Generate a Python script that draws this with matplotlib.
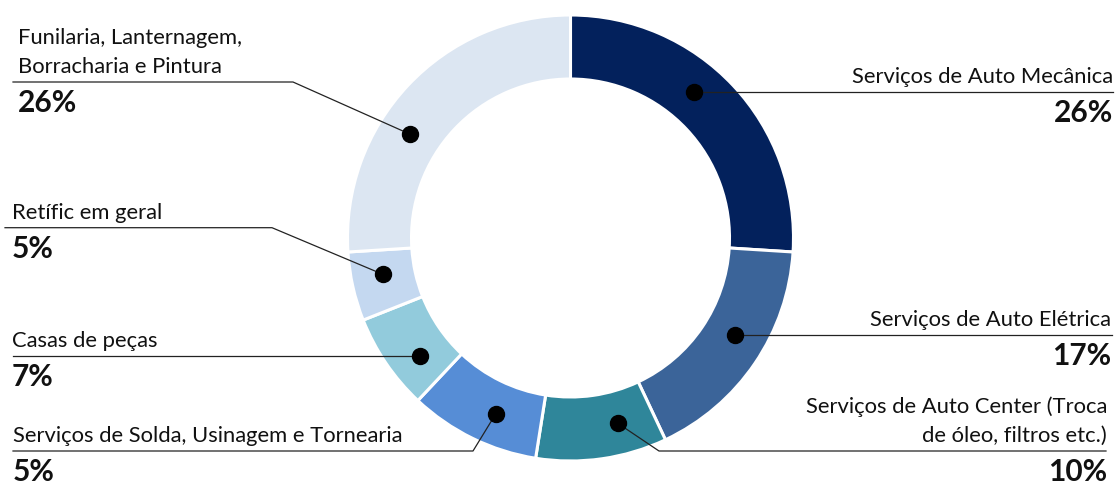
import matplotlib.pyplot as plt
import numpy as np

plt.rcParams['font.family'] = ['Lato', 'DejaVu Sans']

categories = ["Serviços de Auto Mecânica",
              "Serviços de Auto Elétrica",
              "Serviços de Auto Center (Troca\nde óleo, filtros etc.)",
              "Serviços de Solda, Usinagem e Tornearia",
              "Casas de peças",
              "Retífic em geral",
              "Funilaria, Lanternagem,\nBorracharia e Pintura"]
shares = [26, 17, 9.5, 9.5, 7, 5, 26]   # slice sizes as drawn in the ring
pct_labels = ["26%", "17%", "10%", "5%", "7%", "5%", "26%"]
colors = ["#03215c", "#3b6499", "#2f869a", "#568dd6", "#92cbdc", "#c4d8f0", "#dce6f2"]

W, H = 1115, 489
cx, cy = 570.5, H - 239
R, ring = 223, 64

fig = plt.figure(figsize=(W / 100, H / 100), dpi=100)
ax = fig.add_axes([0, 0, 1, 1])

ax.pie(shares, colors=colors, startangle=90, counterclock=False,
       radius=R, center=(cx, cy),
       wedgeprops=dict(width=ring, edgecolor='white', linewidth=2.2))

# where each leader starts inside its slice (fraction of the slice angle)
dot_frac = [0.43, 0.44, 0.32, 0.41, 0.34, 0.59, 0.39]
# elbow x / y (image px, None = straight line), end of line x, text x, alignment
leaders = [
    (None, None, 1113, 1113, 'right'),
    (None, None, 1112, 1111, 'right'),
    (659, 452, 1106, 1107, 'right'),
    (473, 452, 13, 13, 'left'),
    (None, None, 13, 12, 'left'),
    (272, 228.7, 5, 12, 'left'),
    (293, 83, 13, 18, 'left'),
]

total = sum(shares)
start = 90.0
r_mid = R - ring / 2
for i, share in enumerate(shares):
    span = 360.0 * share / total
    ang = np.radians(start - dot_frac[i] * span)
    start -= span
    dx, dy = cx + r_mid * np.cos(ang), cy + r_mid * np.sin(ang)

    ex, ey, x_end, tx, ha = leaders[i]
    if ex is None:
        xs, ys = [dx, x_end], [dy, dy]
        line_y = dy
    else:
        line_y = H - ey
        xs, ys = [dx, ex, x_end], [dy, line_y, line_y]
    ax.plot(xs, ys, color='#222222', lw=0.9, zorder=3)
    ax.plot(dx, dy, 'o', color='black', ms=11.5, zorder=4)

    ax.text(tx, line_y + 6, categories[i], ha=ha, va='bottom', fontsize=15.8,
            color='#111111', linespacing=1.55, multialignment=ha)
    ax.text(tx, line_y - 6, pct_labels[i], ha=ha, va='top', fontsize=21.5,
            fontweight='bold', color='#111111')

ax.set_xlim(0, W)
ax.set_ylim(0, H)
ax.set_aspect('equal')
ax.axis('off')

fig.savefig('out.png', dpi=100)
